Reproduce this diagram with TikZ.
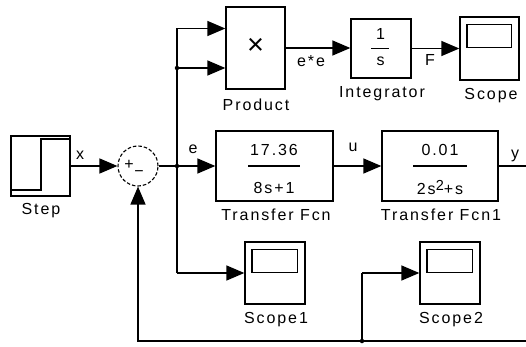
\documentclass[tikz,border=0pt]{standalone}
\usepackage{fontspec}
\setmainfont{Liberation Sans}[LetterSpace=12]
\usetikzlibrary{arrows.meta,calc}
\begin{document}
\begin{tikzpicture}[x=1pt,y=-1pt,
  every node/.style={font=\fontsize{16}{18}\selectfont},
  blk/.style={draw, line width=1.3pt, inner sep=0pt},
  lbl/.style={inner sep=0pt},
  wire/.style={line width=1.3pt},
  arr/.style={line width=1.3pt, -{Triangle[length=18pt,width=15pt]}},
  dotb/.style={fill, circle, inner sep=0pt, minimum size=4.5pt}]
\useasboundingbox (0,0) rectangle (526,347);
% blocks
\node[blk, minimum width=59, minimum height=60] (step) at (40.5,166) {};
\draw[line width=1.3pt] (11,190) -- (41,190) -- (41,139) -- (70,139);
\node[lbl] (lstep) at (41,211) {Step};
\node[draw, circle, dashed, dash pattern=on 3.5pt off 2pt, line width=1.1pt, minimum size=40pt, inner sep=0pt] (sum) at (138,166) {};
\node[lbl] (plus) at (129,165) {\addfontfeature{LetterSpace=0}+};
\node[lbl] (minus) at (139,174) {\addfontfeature{LetterSpace=0}\textminus};
\node[blk, minimum width=59, minimum height=82] (prod) at (255.5,48) {};
\node[lbl, font=\fontsize{29}{29}\selectfont] (times) at (255.5,46.5) {\addfontfeature{LetterSpace=0}×};
\node[lbl] (lprod) at (256,105) {Product};
\node[blk, minimum width=60, minimum height=59] (integ) at (381,48.5) {};
\node[lbl] (inum) at (380.5,34) {\addfontfeature{LetterSpace=0}1};
\draw[line width=1.3pt] (371,48.5) -- (389,48.5);
\node[lbl] (iden) at (380.5,61) {\addfontfeature{LetterSpace=0}s};
\node[lbl] (linteg) at (382,94) {Integrator};
\node[blk, minimum width=59, minimum height=63] (scope) at (489.5,48.5) {};
\node[lbl] (lscope) at (491,96) {Scope};
\node[blk, minimum width=117, minimum height=70] (tf1) at (274.5,166) {};
\node[lbl] (n1) at (274,150) {17.36};
\draw[line width=1.3pt] (248,166) -- (300,166);
\node[lbl] (d1) at (274,187.5) {8s+1};
\node[lbl] (ltf1) at (276,215) {Transfer Fcn};
\node[blk, minimum width=116, minimum height=70] (tf2) at (440,166) {};
\node[lbl] (n2) at (440,150) {0.01};
\draw[line width=1.3pt] (413,166) -- (467,166);
\node[lbl] (d2) at (440,187.5) {2s\raisebox{0.4ex}{\fontsize{14.5}{15}\selectfont 2}+s};
\node[lbl] (ltf2) at (441,215) {Transfer Fcn1};
\node[blk, minimum width=60, minimum height=62] (scope1) at (275,273) {};
\node[lbl] (lscope1) at (276,320) {Scope1};
\node[blk, minimum width=60, minimum height=62] (scope2) at (450,273) {};
\node[lbl] (lscope2) at (451,320) {Scope2};
\foreach \s in {scope,scope1,scope2}
  \draw[line width=1.3pt] ($(\s.north west)+(7.5,8)$) rectangle ($(\s.north east)+(-8,31)$);
% coordinates
\coordinate (br1) at (177,166);
\coordinate (br2) at (177,68);
\coordinate (brtop) at (177,28.5);
\coordinate (brlow) at (177,273);
\coordinate (yout) at (526,166);
\coordinate (bout) at (526,341);
\coordinate (fbc) at (138,341);
\coordinate (fb) at (362,341);
\coordinate (fbup) at (362,273);
% connectors
\draw[arr] (step.east) -- (sum.west);
\node[lbl] (lx) at (80,155) {x};
\draw[wire] (sum.east) -- (br1);
\draw[arr] (br1) -- (tf1.west);
\node[lbl] (le) at (193,149) {e};
\draw[wire] (brlow) -- (brtop);
\draw[arr] (brtop) -- (prod.west |- brtop);
\draw[arr] (br2) -- (prod.west |- br2);
\draw[arr] (brlow) -- (scope1.west);
\draw[arr] (prod.east) -- (integ.west |- prod.east);
\node[lbl] (lee) at (311,61) {e*e};
\draw[arr] (integ.east) -- (scope.west);
\node[lbl] (lF) at (430,60) {F};
\draw[arr] (tf1.east) -- (tf2.west);
\node[lbl] (lu) at (353,147) {u};
\draw[wire] (tf2.east) -- (yout);
\node[lbl] (ly) at (515,156) {y};
\draw[arr] (bout) -- (fbc) -- (sum.south);
\draw[wire] (fb) -- (fbup);
\draw[arr] (fbup) -- (scope2.west);
\node[dotb] (d1b) at (br1) {};
\node[dotb] (d2b) at (br2) {};
\node[dotb] (d3b) at (fb) {};
\end{tikzpicture}
\end{document}
